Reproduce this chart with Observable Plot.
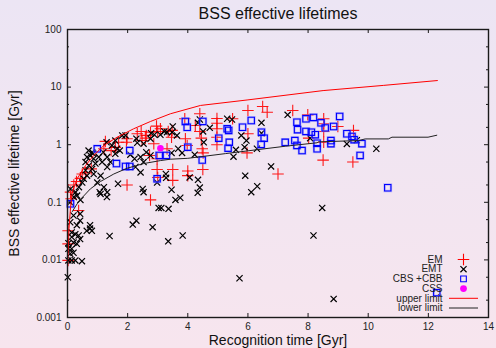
<!DOCTYPE html>
<html><head><meta charset="utf-8">
<script src="https://cdn.jsdelivr.net/npm/d3@7"></script>
<script src="https://cdn.jsdelivr.net/npm/@observablehq/plot@0.6"></script>
<style>
html,body{margin:0;padding:0;}
body{width:496px;height:348px;overflow:hidden;background:linear-gradient(to bottom,#ece5f4 0%,#f7e5ee 100%);}
</style></head><body><div id="chart"></div>
<script>
const title = "BSS effective lifetimes";
const xLabel = "Recognition time [Gyr]";
const yLabel = "BSS effective lifetime [Gyr]";
const xTicks = [0, 2, 4, 6, 8, 10, 12, 14];
const yTicks = [0.001, 0.01, 0.1, 1, 10, 100];
const yTickLabels = ["0.001", "0.01", "0.1", "1", "10", "100"];
const yMinorTicks = [0.002, 0.005, 0.02, 0.05, 0.2, 0.5, 2, 5, 20, 50];
const legendLabels = ["EM", "EMT", "CBS +CBB", "CSS", "upper limit", "lower limit"];

// EM: [recognition time, effective lifetime]
const em = [
[2.98,0.37],[3.50,0.37],[4.00,0.35],[4.00,0.29],[4.50,0.37],[3.50,0.24],[7.00,0.31],[2.76,0.11],[8.50,0.54],[1.98,0.20],
[7.49,3.93],[7.99,3.30],[8.52,2.82],[8.52,2.31],[8.52,1.70],[8.52,1.10],[8.99,2.07],[9.51,1.77],[8.02,1.30],[9.49,0.50],
[4.40,3.44],[4.97,2.85],[4.97,2.36],[4.97,1.89],[4.97,1.35],[4.97,1.00],[6.00,3.93],[6.49,4.61],[6.64,3.67],[4.40,1.70],
[4.45,1.30],[4.48,0.85],[4.51,0.72],[6.00,1.55],[5.97,0.72],[3.90,2.82],[3.92,1.27],[3.98,0.97],[3.48,1.77],[3.46,1.35],
[3.35,1.70],[4.25,2.15],[5.49,2.82],[2.96,2.10],[3.00,1.70],[3.09,1.89],[2.76,1.65],[2.59,1.30],[2.62,1.45],[2.48,1.18],
[2.45,1.70],[2.32,1.55],[1.98,1.27],[1.96,1.10],[1.70,1.10],[1.59,0.90],[1.45,0.79],[1.26,1.14],[1.21,0.85],[0.79,0.38],
[0.60,0.33],[0.49,0.31],[0.43,0.26],[0.30,0.23],[0.21,0.20],[0.10,0.15],[3.00,0.27],[2.98,0.57],[3.31,0.85],[2.87,1.04],
[2.73,0.65],[0.12,0.115],[0.37,0.072],[0.02,0.032],[0.02,0.019],[0.02,0.0098]
];
// EMT
const emt = [
[6.77,0.42],[5.91,0.29],[6.31,0.19],[6.11,0.15],[8.47,0.080],[8.18,0.0265],[5.72,0.0048],[8.85,0.0021],[3.27,0.31],[3.28,0.266],
[4.06,0.27],[4.34,0.246],[4.40,0.18],[4.33,0.146],[3.46,0.165],[3.75,0.12],[3.59,0.11],[3.03,0.080],[3.12,0.080],[3.36,0.077],
[2.83,0.037],[3.35,0.021],[3.83,0.0265],[2.98,0.22],[2.50,0.17],[2.53,0.15],[2.29,0.048],[2.17,0.041],[1.40,0.026],[1.31,0.123],
[1.68,0.21],[1.07,0.15],[0.75,0.040],[0.75,0.035],[0.64,0.032],[0.81,0.032],[0.20,0.059],[0.42,0.063],[0.42,0.048],[0.31,0.040],
[0.09,0.045],[0.14,0.030],[0.26,0.028],[0.14,0.025],[0.37,0.0265],[0.42,0.023],[0.20,0.020],[0.31,0.019],[0.03,0.0195],[0.03,0.0156],
[0.14,0.0156],[0.09,0.0128],[0.20,0.0133],[0.03,0.0098],[0.14,0.0098],[0.26,0.0098],[0.48,0.0095],[0.01,0.005],[0.09,0.10],[1.82,1.45],
[1.93,1.45],[2.29,1.27],[2.32,1.08],[2.53,1.04],[2.76,1.27],[2.89,1.49],[3.09,1.49],[3.22,1.70],[2.09,0.67],[2.23,0.57],
[2.26,0.41],[2.43,0.33],[2.53,0.50],[2.43,0.61],[2.62,0.74],[2.76,0.65],[1.65,0.85],[1.59,0.695],[1.32,0.61],[1.19,0.74],
[1.43,0.50],[1.15,0.50],[1.04,0.61],[0.82,0.74],[0.76,0.65],[0.87,0.57],[0.65,0.61],[0.60,0.50],[0.71,0.435],[0.82,0.38],
[0.87,0.31],[0.60,0.36],[0.65,0.29],[0.54,0.256],[0.49,0.22],[0.38,0.183],[0.27,0.15],[0.21,0.123],[1.10,0.29],[0.99,0.22],
[1.21,0.183],[1.32,0.15],[1.10,0.14],[1.32,0.41],[0.93,0.47],[0.32,0.131],[0.43,0.11],[1.59,1.18],[1.30,1.10],[1.48,0.97],
[1.74,0.79],[2.78,1.58],[0.70,0.79],[0.85,0.70],[5.31,2.82],[5.47,2.74],[4.34,2.40],[4.73,1.96],[4.51,1.70],[4.40,2.74],
[3.50,2.07],[3.64,1.45],[3.31,1.65],[3.48,1.65],[3.68,0.85],[3.46,0.72],[3.81,0.72],[4.23,0.67],[5.60,0.815],[5.52,0.62],
[5.89,0.905],[5.95,1.18],[5.78,1.45],[6.30,0.85],[6.45,2.40],[6.45,1.58],[7.32,3.30],[4.53,1.10],[8.07,1.30],[9.29,1.03],
[9.62,1.20],[10.27,0.85],[0.10,0.17]
];
// CBS + CBB
const cbs = [
[2.98,0.256],[4.48,0.54],[0.99,0.85],[2.07,0.79],[1.63,0.47],[1.93,0.42],[2.07,0.42],[3.05,0.65],[3.29,0.65],[0.10,0.094],
[3.92,2.53],[3.98,2.01],[4.50,2.53],[5.31,1.89],[5.36,1.77],[6.11,2.63],[5.82,2.01],[5.03,1.30],[5.38,1.10],[5.34,0.87],
[4.00,0.905],[6.45,1.65],[6.54,1.30],[6.44,1.01],[7.24,1.10],[7.63,2.46],[7.65,1.82],[7.93,2.82],[8.18,2.97],[8.43,2.40],
[8.57,1.96],[8.85,2.07],[9.05,3.09],[7.56,1.18],[7.63,0.97],[7.80,0.79],[7.93,1.70],[8.11,1.65],[8.24,1.49],[8.30,1.06],
[8.30,0.85],[8.76,1.18],[8.76,1.04],[9.29,1.55],[9.46,1.39],[9.53,1.22],[9.79,1.04],[9.73,0.65],[10.65,0.179],[12.28,0.0027]
];
// CSS
const css = [[3.09,0.87]];
// limits
const upperLimit = [
[0.02,0.012],[0.05,0.035],[0.10,0.08],[0.16,0.15],[0.32,0.256],[0.60,0.435],[0.87,0.65],[1.21,0.97],[1.65,1.35],
[2.20,1.89],[2.76,2.53],[3.42,3.44],[4.42,4.8],[6.0,6.0],[8.5,8.7],[10.5,10.7],[12.3,13.0]
];
const lowerLimit = [
[0.16,0.069],[0.32,0.094],[0.43,0.112],[0.76,0.171],[1.10,0.23],[1.54,0.31],[1.98,0.39],[2.53,0.47],[3.09,0.53],[3.42,0.56],
[4.0,0.58],[5.25,0.70],[7.24,0.94],[8.30,1.08],[8.35,1.12],[9.68,1.18],[9.90,1.26],[10.67,1.26],[10.79,1.35],[11.99,1.35],[12.28,1.46]
];

const W = 496, H = 348, mT = 29, mB = 31, mL = 67, mR = 8;
const innerH = H - mT - mB, innerW = W - mL - mR;
const tMaj = 4, tMin = 2;
const axisColor = "#1a1a1a";
const px = d => d[0], py = d => d[1];
const hLine = {draw(context, size) { const h = Math.sqrt(size / Math.PI); context.moveTo(-h, 0); context.lineTo(h, 0); }};

const legendStyles = [
  {symbol: "plus", r: 3.8, stroke: "#ff0000", fill: "none", strokeWidth: 1.1},
  {symbol: "times", r: 2.9, stroke: "#000", fill: "none", strokeWidth: 1.2},
  {symbol: "square", r: 3.2, stroke: "#0000ff", fill: "none", strokeWidth: 1.1},
  {symbol: "circle", r: 3.4, fill: "#ff00ff", stroke: "none"},
  {symbol: hLine, r: 14.5, stroke: "#ff0000", fill: "none", strokeWidth: 1},
  {symbol: hLine, r: 14.5, stroke: "#222", fill: "none", strokeWidth: 1}
];
const legendMarks = legendLabels.flatMap((lab, i) => {
  const dy = -58 + i * 9.7;
  return [
    Plot.text([lab], {text: d => d, frameAnchor: "bottom-right", dx: -46, dy, textAnchor: "end", lineAnchor: "middle", fontSize: 10, fill: "#222"}),
    Plot.dot([0], {frameAnchor: "bottom-right", dx: -25, dy, ...legendStyles[i]})
  ];
});

const chart = Plot.plot({
  width: W, height: H,
  marginTop: mT, marginBottom: mB, marginLeft: mL, marginRight: mR,
  style: {background: "transparent", fontFamily: "'Liberation Sans', Arial, Helvetica, sans-serif", color: "#222"},
  x: {domain: [0, 14]},
  y: {type: "log", domain: [0.001, 100]},
  marks: [
    Plot.axisX({ticks: xTicks, tickSize: 0, tickPadding: 5, fontSize: 10, label: null, tickFormat: d => String(d)}),
    Plot.axisY({ticks: yTicks, tickSize: 0, tickPadding: 6, fontSize: 10, label: null, tickFormat: d => yTickLabels[yTicks.indexOf(d)]}),
    Plot.ruleX(xTicks.slice(1, -1), {stroke: axisColor, insetTop: innerH - tMaj}),
    Plot.ruleX(xTicks.slice(1, -1), {stroke: axisColor, insetBottom: innerH - tMaj}),
    Plot.ruleY(yTicks.slice(1, -1), {stroke: axisColor, insetRight: innerW - tMaj}),
    Plot.ruleY(yTicks.slice(1, -1), {stroke: axisColor, insetLeft: innerW - tMaj}),
    Plot.ruleY(yMinorTicks, {stroke: axisColor, insetRight: innerW - tMin}),
    Plot.ruleY(yMinorTicks, {stroke: axisColor, insetLeft: innerW - tMin}),
    Plot.dot(em, {x: px, y: py, symbol: "plus", r: 3.8, stroke: "#ff0000", fill: "none", strokeWidth: 1.1, strokeOpacity: 0.9}),
    Plot.dot(emt, {x: px, y: py, symbol: "times", r: 2.9, stroke: "#000", fill: "none", strokeWidth: 1.2}),
    Plot.dot(cbs, {x: px, y: py, symbol: "square", r: 3.6, stroke: "#8c8cff", fill: "none", strokeWidth: 2.4, strokeOpacity: 0.55}),
    Plot.dot(cbs, {x: px, y: py, symbol: "square", r: 3.6, stroke: "#0000ff", fill: "none", strokeWidth: 1.1}),
    Plot.dot(css, {x: px, y: py, r: 3.3, fill: "#ff00ff", stroke: "none"}),
    Plot.line(upperLimit, {x: px, y: py, stroke: "#ff0000", strokeWidth: 1}),
    Plot.line(lowerLimit, {x: px, y: py, stroke: "#222", strokeWidth: 1}),
    ...legendMarks,
    Plot.frame({stroke: axisColor, strokeWidth: 1.4}),
    Plot.text([title], {text: d => d, frameAnchor: "top", dy: -16, textAnchor: "middle", lineAnchor: "middle", fontSize: 16, fill: "#111"}),
    Plot.text([xLabel], {text: d => d, frameAnchor: "bottom", dy: 23, textAnchor: "middle", lineAnchor: "middle", fontSize: 14, fill: "#111"}),
    Plot.text([yLabel], {text: d => d, frameAnchor: "left", dx: -53, rotate: -90, textAnchor: "middle", lineAnchor: "middle", fontSize: 14, fill: "#111"})
  ]
});
document.getElementById("chart").appendChild(chart);
</script>
</body></html>
